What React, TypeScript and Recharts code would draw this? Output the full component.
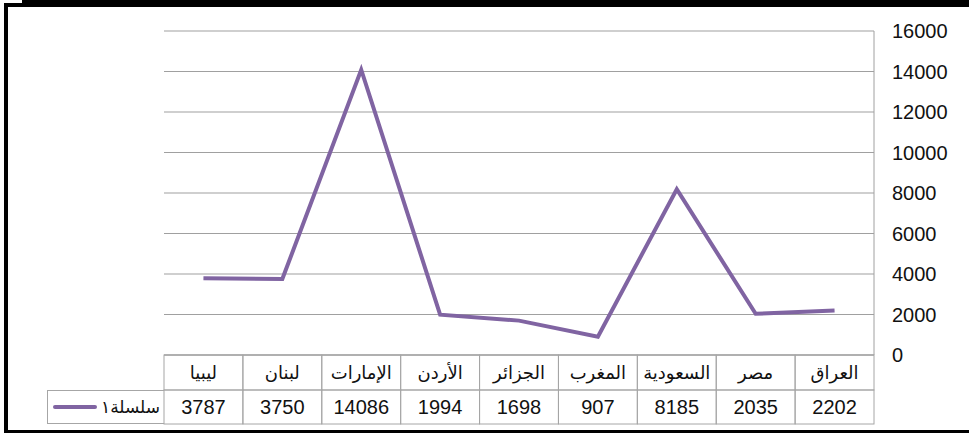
import React from "react";
import { LineChart, Line, XAxis, YAxis, CartesianGrid, Legend } from "recharts";

// original series order (axis is drawn reversed, right-to-left)
const countries = ["العراق", "مصر", "السعودية", "المغرب", "الجزائر", "الأردن", "الإمارات", "لبنان", "ليبيا"];
const values = [2202, 2035, 8185, 907, 1698, 1994, 14086, 3750, 3787];
const seriesName = "سلسلة١";
const yTicks = [0, 2000, 4000, 6000, 8000, 10000, 12000, 14000, 16000];

const data = countries.map((c, i) => ({ country: c, value: values[i] }));

const W = 969;
const H = 436;
const PLOT_LEFT = 164;
const PLOT_RIGHT = 874;
const PLOT_TOP = 31;
const PLOT_BOTTOM = 355;
const ROW_MID = 390;
const ROW_END = 424;

const FONT = '"Liberation Sans", "DejaVu Sans", sans-serif';
const LINE = "#8064A2";
const GRID = "#a0a0a0";
const TABLE = "#a6a6a6";

function TableTick(props: any) {
  const { x, payload } = props;
  const half = payload?.offset || (PLOT_RIGHT - PLOT_LEFT) / countries.length / 2;
  const v = values[countries.indexOf(payload.value)];
  return (
    <g>
      <rect x={x - half} y={PLOT_BOTTOM} width={half * 2} height={ROW_MID - PLOT_BOTTOM} fill="none" stroke={TABLE} />
      <rect x={x - half} y={ROW_MID} width={half * 2} height={ROW_END - ROW_MID} fill="none" stroke={TABLE} />
      <text x={x} y={(PLOT_BOTTOM + ROW_MID) / 2} dy="0.35em" textAnchor="middle" fontSize={18} fontFamily={FONT} fill="#111">
        {payload.value}
      </text>
      <text x={x} y={(ROW_MID + ROW_END) / 2} dy="0.36em" textAnchor="middle" fontSize={20} fontFamily={FONT} fill="#111">
        {v}
      </text>
    </g>
  );
}

function LegendCell(props: any) {
  const item = props.payload?.[0];
  if (!item) return null;
  return (
    <div
      style={{
        position: "absolute",
        left: 47,
        top: ROW_MID,
        width: PLOT_LEFT - 47,
        height: ROW_END - ROW_MID,
        boxSizing: "border-box",
        borderLeft: `1px solid ${TABLE}`,
        borderTop: `1px solid ${TABLE}`,
        borderBottom: `1px solid ${TABLE}`,
        display: "flex",
        alignItems: "center",
        fontFamily: FONT,
        fontSize: 17,
        color: "#111",
      }}
    >
      <div style={{ width: 44, height: 4, background: item.color, marginLeft: 5, borderRadius: 2 }} />
      <span style={{ marginLeft: 4 }}>{item.value}</span>
    </div>
  );
}

export default function App() {
  return (
    <div style={{ position: "absolute", left: 0, top: 0, width: W, height: H, background: "#fff", overflow: "hidden" }}>
      {/* outer frame */}
      <div style={{ position: "absolute", left: 22, top: 0, width: W, height: 4, background: "#000" }} />
      <div
        style={{
          position: "absolute",
          left: 4,
          top: 3,
          width: W,
          height: 430,
          boxSizing: "border-box",
          borderTop: "4px solid #000",
          borderLeft: "4px solid #000",
          borderBottom: "3px solid #000",
        }}
      />
      <LineChart
        width={W}
        height={H}
        data={data}
        margin={{ top: PLOT_TOP, right: 0, bottom: 0, left: PLOT_LEFT }}
        style={{ position: "absolute", left: 0, top: 0 }}
      >
        <CartesianGrid horizontal vertical={false} stroke={GRID} strokeWidth={1.2} />
        <XAxis
          dataKey="country"
          scale="band"
          reversed
          interval={0}
          height={H - PLOT_BOTTOM}
          axisLine={{ stroke: TABLE }}
          tickLine={false}
          tick={<TableTick />}
        />
        <YAxis
          orientation="right"
          width={W - PLOT_RIGHT}
          domain={[0, 16000]}
          ticks={yTicks}
          interval={0}
          axisLine={{ stroke: GRID }}
          tickLine={false}
          tickSize={0}
          tickMargin={18}
          tick={{ fontSize: 20, fontFamily: FONT, fill: "#111", textAnchor: "start" }}
        />
        <Legend
          layout="horizontal"
          verticalAlign="middle"
          align="center"
          content={<LegendCell />}
          wrapperStyle={{ left: 0, top: 0, width: 0, height: 0 }}
        />
        <Line
          type="linear"
          dataKey="value"
          name={seriesName}
          stroke={LINE}
          strokeWidth={4}
          dot={false}
          activeDot={false}
          isAnimationActive={false}
        />
      </LineChart>
    </div>
  );
}
